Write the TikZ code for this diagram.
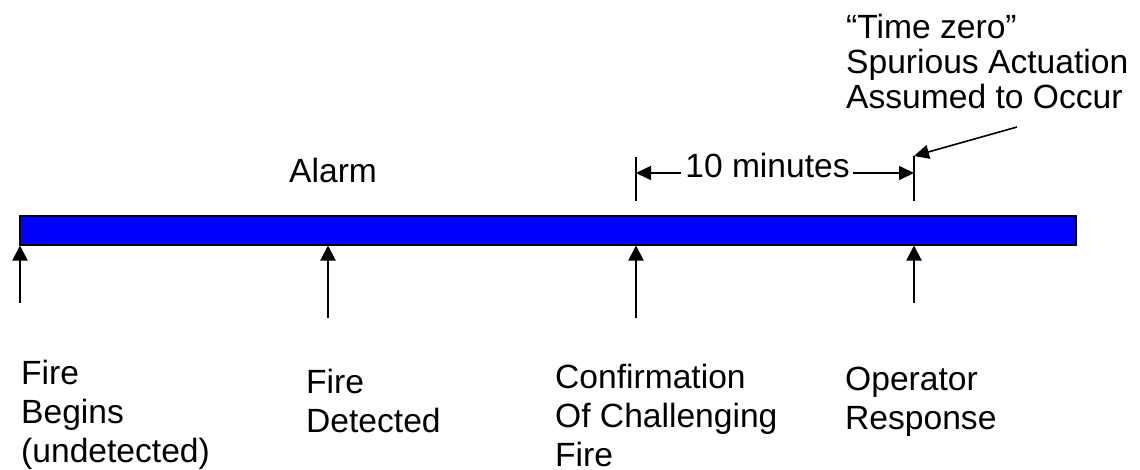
\documentclass[tikz,border=0pt]{standalone}
\usepackage{fontspec}
\setmainfont{Liberation Sans}
\usetikzlibrary{arrows.meta}
\begin{document}
\begin{tikzpicture}[x=1pt,y=-1pt,
  lbl/.style={anchor=base west, inner sep=0pt, align=left,
              font=\fontsize{33.6}{39}\selectfont},
  toplbl/.style={lbl, font=\fontsize{33.6}{35}\selectfont},
  marker/.style={line width=2pt, -{Triangle[width=15pt,length=15pt]}},
  dim/.style={line width=1.6pt, -{Triangle[width=14pt,length=15pt]}},
  tick/.style={line width=1.6pt},
  timebar/.style={draw=black, line width=2pt, fill=blue, inner sep=0pt,
                  minimum width=1056pt, minimum height=29pt}
]
\useasboundingbox (0,0) rectangle (1140,469);

% the time line
\node[timebar] (bar) at (548,230) {};

% event markers below the bar
\coordinate (m1) at (20,303);
\coordinate (m2) at (328,318);
\coordinate (m3) at (636,318);
\coordinate (m4) at (914,303);
\foreach \m in {m1,m2,m3,m4}
  \draw[marker] (\m) -- (\m |- bar.south);

% event labels (anchored on the baseline of their last line)
\node[lbl] (begins)   at (21,462)  {Fire\\Begins\\(undetected)};
\node[lbl] (detected) at (306,432) {Fire\\Detected};
\node[lbl] (confirm)  at (555,466) {Confirmation\\Of Challenging\\Fire};
\node[lbl] (operator) at (845,429) {Operator\\Response};

\node[lbl] (alarm) at (289,182) {Alarm};

% ten-minute interval
\coordinate (ta) at (636,157);
\coordinate (tb) at (636,201);
\coordinate (ua) at (914,156);
\coordinate (ub) at (914,201);
\draw[tick] (ta) -- (tb);
\draw[tick] (ua) -- (ub);
\node[anchor=base, inner sep=0pt, font=\fontsize{33.6}{39}\selectfont]
  (ten) at (767.5,177) {10 minutes};
\coordinate (dl) at (681,173);
\coordinate (dr) at (853,173);
\draw[dim] (dl) -- (dl -| ta);
\draw[dim] (dr) -- (dr -| ua);

% time zero note
\node[toplbl] (zero) at (846,108) {“Time zero”\\Spurious Actuation\\Assumed to Occur};
\coordinate (za) at (1017,127);
\draw[dim] (za) -- (ua);
\end{tikzpicture}
\end{document}
